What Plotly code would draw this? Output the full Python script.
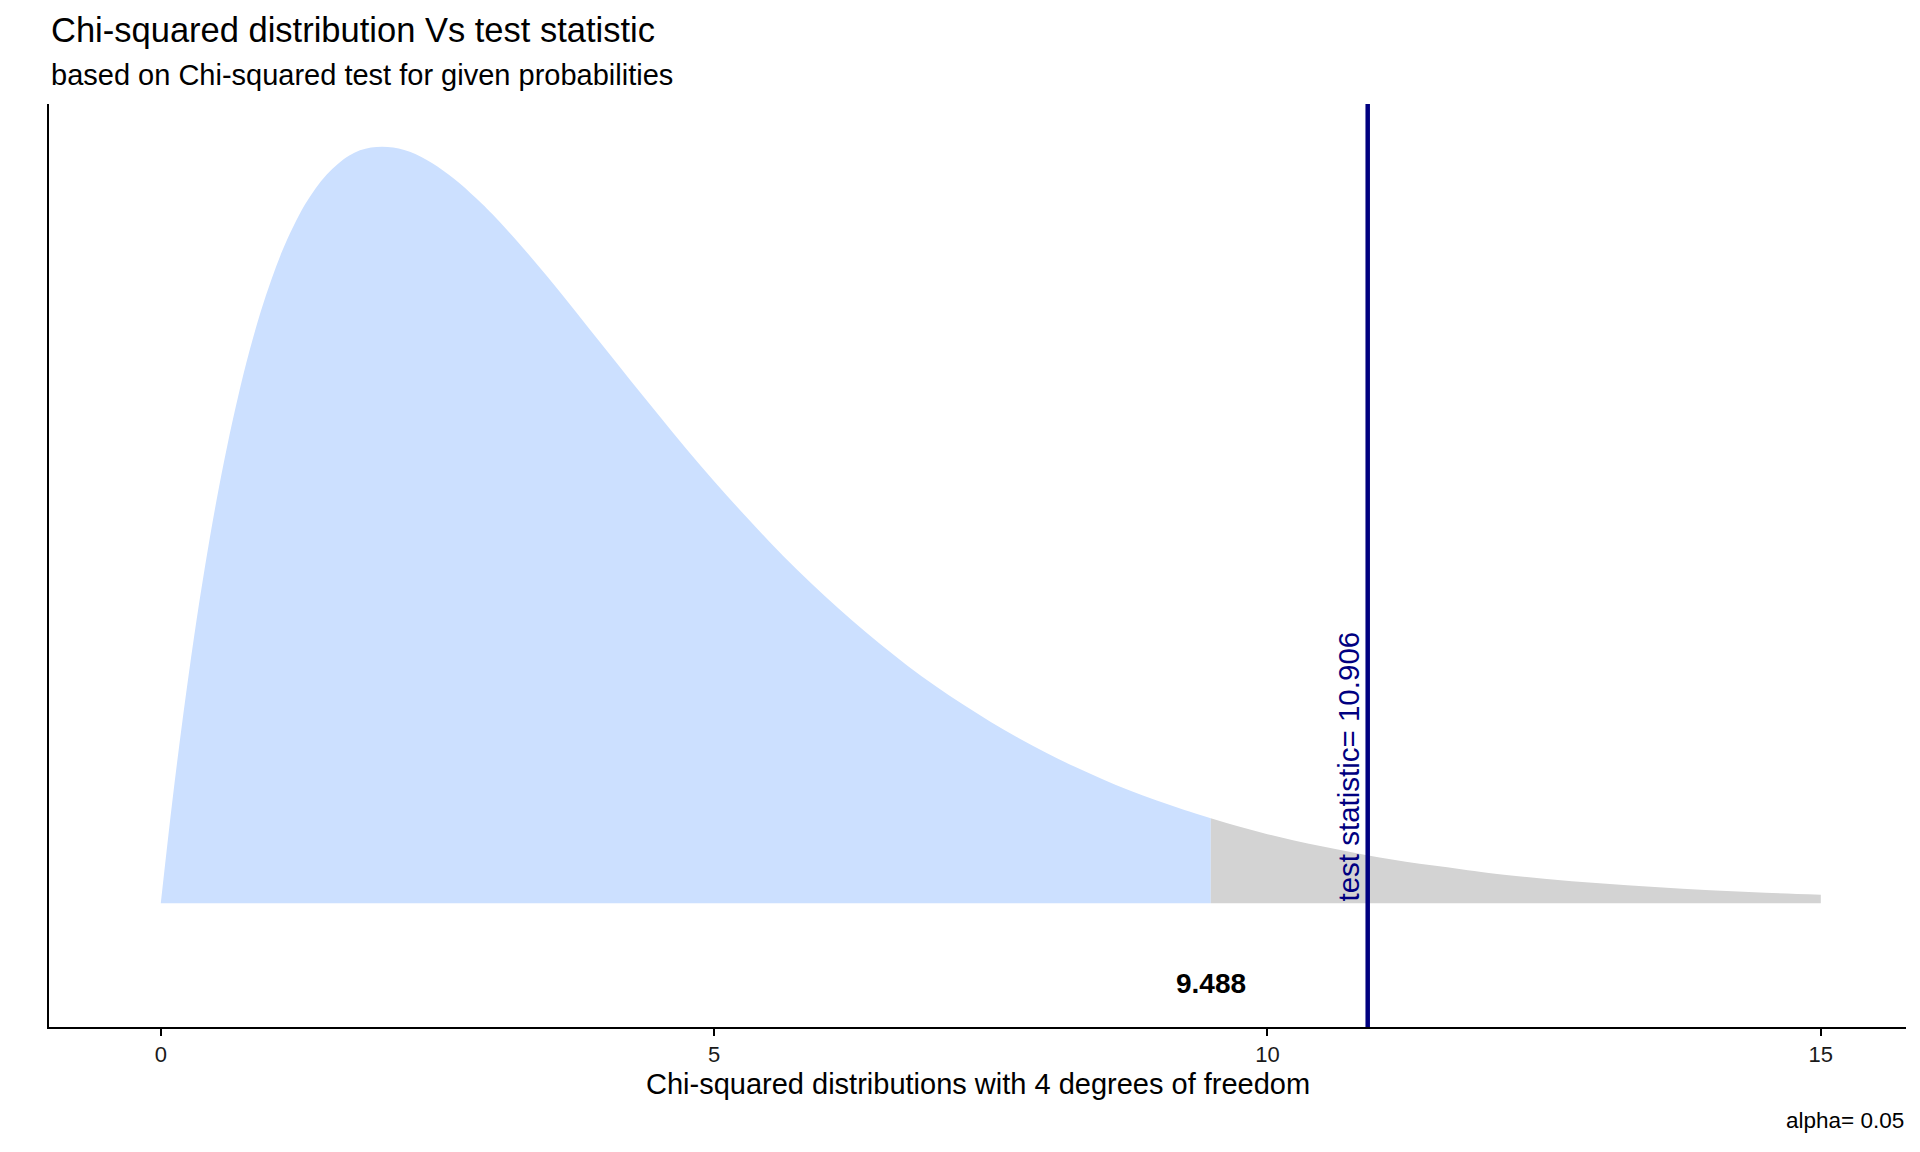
import plotly.graph_objects as go

# Density values (chi-squared, 4 df)
x_accept = [0, 0.1, 0.2, 0.3, 0.4, 0.5, 0.6, 0.7, 0.8, 0.9, 1.0, 1.1, 1.2, 1.3, 1.4, 1.5,
            1.6, 1.7, 1.8, 1.9, 2.0, 2.1, 2.2, 2.3, 2.4, 2.5, 2.6, 2.7, 2.8, 2.9, 3.0,
            3.25, 3.5, 3.75, 4.0, 4.25, 4.5, 4.75, 5.0, 5.25, 5.5, 5.75, 6.0, 6.25, 6.5,
            6.75, 7.0, 7.25, 7.5, 7.75, 8.0, 8.25, 8.5, 8.75, 9.0, 9.25, 9.488]
y_accept = [0, 0.0238, 0.0452, 0.0646, 0.0819, 0.0974, 0.1111, 0.1233, 0.1341, 0.1435,
            0.1516, 0.1587, 0.1646, 0.1697, 0.1738, 0.1771, 0.1797, 0.1817, 0.1830, 0.1837,
            0.1839, 0.1837, 0.1831, 0.1821, 0.1807, 0.1791, 0.1771, 0.1750, 0.1726, 0.1701,
            0.1674, 0.1600, 0.1521, 0.1438, 0.1353, 0.1269, 0.1186, 0.1104, 0.1026, 0.0951,
            0.0879, 0.0811, 0.0747, 0.0687, 0.0630, 0.0577, 0.0528, 0.0483, 0.0441, 0.0402,
            0.0366, 0.0333, 0.0303, 0.0275, 0.0250, 0.0227, 0.0207]
x_reject = [9.488, 9.75, 10.0, 10.25, 10.5, 10.75, 11.0, 11.25, 11.5, 11.75, 12.0, 12.5,
            13.0, 13.5, 14.0, 14.5, 15.0]
y_reject = [0.0207, 0.0186, 0.0168, 0.0152, 0.0138, 0.0125, 0.0112, 0.0101, 0.0092, 0.0083,
            0.0074, 0.0060, 0.0049, 0.0040, 0.0032, 0.0026, 0.0021]

critical_value = 9.488
test_statistic = 10.906
critical_label_y = -0.0195
x_ticks = [0, 5, 10, 15]

title_text = "Chi-squared distribution Vs test statistic"
subtitle_text = "based on Chi-squared test for given probabilities"
xaxis_text = "Chi-squared distributions with 4 degrees of freedom"
caption_text = "alpha= 0.05"

FONT = "Liberation Sans, Arial, sans-serif"

# Layout geometry (pixels of the target image; page has an 8px body margin)
OFF = 8
W, H = 1920 - OFF, 1152 - OFF
PL, PR, PT, PB = 49, 1906, 103.5, 1027.5


def px(x):
    return (x - PL) / (PR - PL)


def py(y):
    return (PB - y) / (PB - PT)


fig = go.Figure()
fig.add_trace(go.Scatter(x=x_accept, y=y_accept, mode="lines", fill="tozeroy",
                         fillcolor="#cce0ff", line=dict(width=0, color="#cce0ff", shape="spline"),
                         hoverinfo="skip", showlegend=False))
fig.add_trace(go.Scatter(x=x_reject, y=y_reject, mode="lines", fill="tozeroy",
                         fillcolor="#d3d3d3", line=dict(width=0, color="#d3d3d3", shape="spline"),
                         hoverinfo="skip", showlegend=False))

fig.add_shape(type="line", x0=test_statistic, x1=test_statistic, y0=0, y1=1,
              xref="x", yref="paper", line=dict(color="#000080", width=4.5))

fig.add_annotation(x=test_statistic, y=0, xref="x", yref="y",
                   text="test statistic= " + format(test_statistic, ".3f"),
                   textangle=-90, xanchor="right", yanchor="bottom", xshift=-1,
                   showarrow=False, font=dict(family=FONT, size=29.5, color="#000080"))
fig.add_annotation(x=critical_value, y=critical_label_y, xref="x", yref="y",
                   text="<b>" + format(critical_value, ".3f") + "</b>",
                   showarrow=False, font=dict(family=FONT, size=28, color="black"))

fig.add_annotation(x=0, y=py(29.7), xref="paper", yref="paper", xanchor="left", yanchor="middle",
                   text=title_text, showarrow=False,
                   font=dict(family=FONT, size=34.5, color="black"))
fig.add_annotation(x=0, y=py(74), xref="paper", yref="paper", xanchor="left", yanchor="middle",
                   text=subtitle_text, showarrow=False,
                   font=dict(family=FONT, size=29, color="black"))
fig.add_annotation(x=0.5, y=py(1084.7), xref="paper", yref="paper", xanchor="center", yanchor="middle",
                   text=xaxis_text, showarrow=False,
                   font=dict(family=FONT, size=29, color="black"))
fig.add_annotation(x=px(1906), y=py(1121), xref="paper", yref="paper", xanchor="right", yanchor="middle",
                   text=caption_text, showarrow=False,
                   font=dict(family=FONT, size=22.5, color="black"))

fig.update_layout(
    width=W, height=H,
    margin=dict(l=PL - OFF, r=W - (PR - OFF), t=PT - OFF, b=H - (PB - OFF), pad=0,
                autoexpand=False),
    paper_bgcolor="white", plot_bgcolor="white",
    showlegend=False,
    font=dict(family=FONT, color="black"),
)
fig.update_xaxes(range=[-1.01, 15.77], tickvals=x_ticks, ticktext=[str(t) for t in x_ticks],
                 showgrid=False, zeroline=False, showline=True, linecolor="black", linewidth=2,
                 ticks="outside", ticklen=7, tickwidth=2, tickcolor="black",
                 tickfont=dict(family=FONT, size=22, color="#1a1a1a"), automargin=False)
fig.update_yaxes(range=[-0.03005, 0.19426], showgrid=False, zeroline=False, showline=True,
                 linecolor="black", linewidth=2, showticklabels=False, ticks="", automargin=False)

fig.write_html("out.html")
